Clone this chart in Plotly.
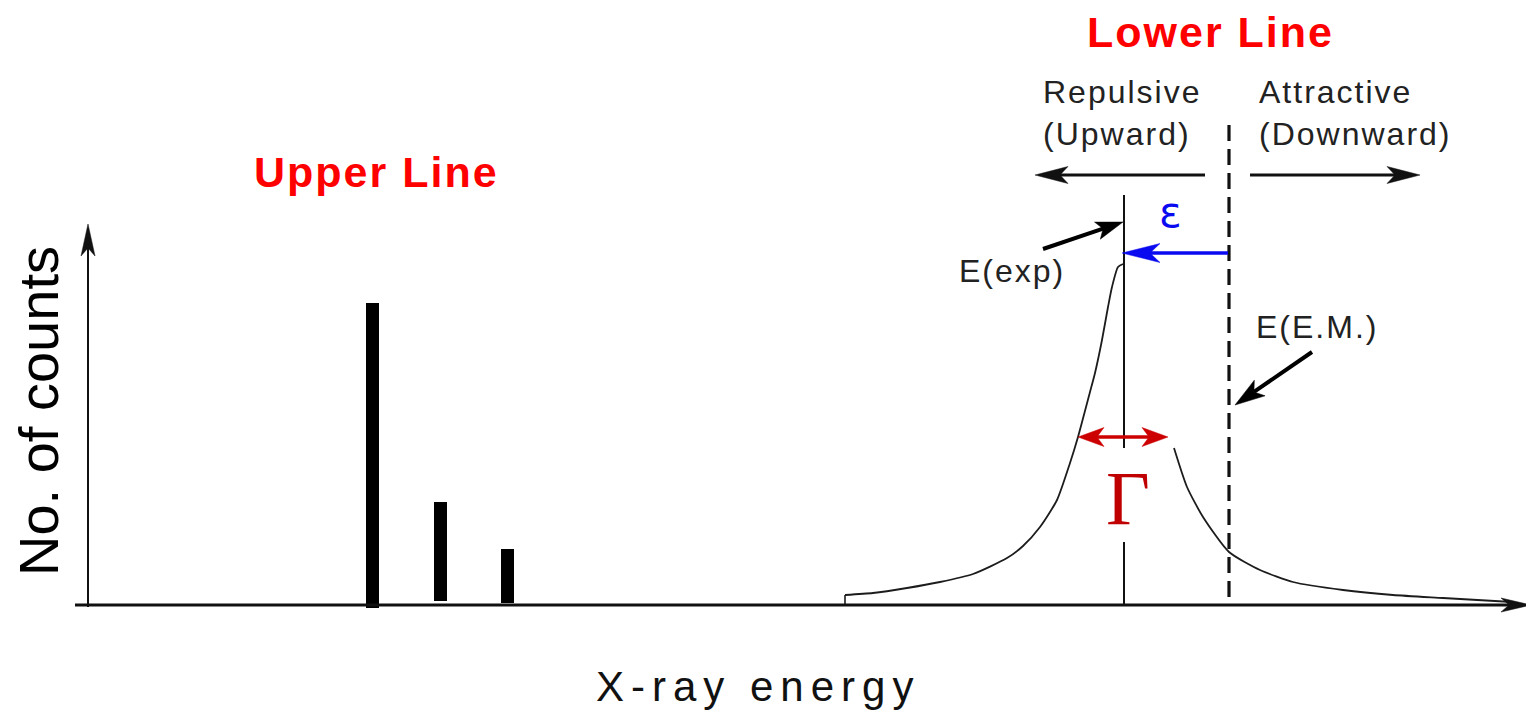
import math
import plotly.graph_objects as go

# Upper line: three components (energy, peak counts, foot of each bar)
upper_energy = [372, 440, 507]
upper_counts = [302, 103, 56]
upper_base = [-3, 4, 2]

# Lower line profile, broken on the high-energy side where the width label sits
lower_left_energy = [845, 873, 907, 940, 973, 1007, 1023, 1040, 1057, 1070,
                     1078, 1090, 1095, 1102, 1108, 1112, 1118, 1123]
lower_left_counts = [10, 12, 17, 23, 31, 47, 59, 78, 105, 142,
                     168, 213, 232, 265, 298, 318, 338, 341]
lower_right_energy = [1174, 1187, 1203, 1229, 1260, 1293, 1343, 1393, 1443, 1512]
lower_right_counts = [157, 118, 88, 53, 35, 23, 15, 10, 7, 3]

# Measured and electromagnetic-only energies of the lower line
E_exp = 1124
E_em = 1229

W, H = 1526, 723
BASE_PX = 605           # pixel row of zero counts
FONT = "Liberation Sans"
INK = "#111111"


def cy(py):
    """Pixel row -> counts coordinate."""
    return BASE_PX - py


def arrow(x0, y0, x1, y1, color, width, head_len, head_w, notch, both=False):
    """Shaft plus stealth-style filled head(s) as layout shapes."""
    d = math.hypot(x1 - x0, y1 - y0)
    ux, uy = (x1 - x0) / d, (y1 - y0) / d
    nx, ny = -uy, ux

    def head(tx, ty, sx, sy):
        bx, by = tx - head_len * sx, ty - head_len * sy
        mx, my = tx - (head_len - notch) * sx, ty - (head_len - notch) * sy
        path = (f"M{tx},{ty} L{bx + head_w * nx},{by + head_w * ny} "
                f"L{mx},{my} L{bx - head_w * nx},{by - head_w * ny} Z")
        shp = dict(type="path", path=path, xref="x", yref="y",
                   fillcolor=color, line=dict(color=color, width=0.5),
                   layer="above")
        return shp, (mx, my)

    out = []
    h1, end = head(x1, y1, ux, uy)
    out.append(h1)
    start = (x0, y0)
    if both:
        h0, start = head(x0, y0, -ux, -uy)
        out.append(h0)
    out.append(dict(type="line", xref="x", yref="y", x0=start[0], y0=start[1],
                    x1=end[0], y1=end[1], line=dict(color=color, width=width),
                    layer="above"))
    return out


fig = go.Figure()

# Upper line bars
fig.add_trace(go.Bar(
    x=upper_energy,
    y=[c - b for c, b in zip(upper_counts, upper_base)],
    base=upper_base, width=13,
    marker=dict(color="#000000", line=dict(width=0)),
    showlegend=False, hoverinfo="skip"))

# Lower line profile
for xs, ys in ((lower_left_energy, lower_left_counts),
               (lower_right_energy, lower_right_counts)):
    fig.add_trace(go.Scatter(x=xs, y=ys, mode="lines",
                             line=dict(color="#1c1c1c", width=1.8,
                                       shape="spline", smoothing=0.6),
                             showlegend=False, hoverinfo="skip"))

# small foot where the profile starts
fig.add_trace(go.Scatter(x=[lower_left_energy[0]] * 2,
                         y=[0, lower_left_counts[0]], mode="lines",
                         line=dict(color="#1c1c1c", width=1.6),
                         showlegend=False, hoverinfo="skip"))

# Measured energy marker (interrupted around the width label)
for y0, y1 in ((cy(195), cy(448)), (cy(542), 0)):
    fig.add_trace(go.Scatter(x=[E_exp, E_exp], y=[y0, y1], mode="lines",
                             line=dict(color=INK, width=2),
                             showlegend=False, hoverinfo="skip"))

# Electromagnetic energy marker
fig.add_trace(go.Scatter(x=[E_em, E_em], y=[cy(125), 0], mode="lines",
                         line=dict(color=INK, width=3.2, dash="16px,8px"),
                         showlegend=False, hoverinfo="skip"))

shapes = []
# axes
shapes += arrow(88, cy(607), 88, cy(224), INK, 2, 32, 7, 8)
shapes += arrow(75, 0, 1531, 0, INK, 2.8, 30, 7, 8)
# shift direction arrows
shapes += arrow(1205, cy(175), 1035, cy(175), INK, 2.8, 33, 8.5, 8)
shapes += arrow(1250, cy(175), 1420, cy(175), INK, 2.8, 33, 8.5, 8)
# E(exp) pointer
shapes += arrow(1043, cy(249), E_exp - 1, cy(222), "#000000", 4, 27, 9, 6)
# shift epsilon
shapes += arrow(E_em - 1, cy(253), E_exp - 2, cy(253), "#0a0af0", 3.5, 38, 9.5, 10)
# E(E.M.) pointer
shapes += arrow(1312, cy(352), E_em + 6, cy(405), "#000000", 4, 30, 9.5, 7)
# width Gamma
shapes += arrow(1078, cy(437), 1168, cy(437), "#cc0000", 3.5, 26, 9.5, 7, both=True)


def ls(text, px):
    return f'<span style="letter-spacing:{px}px">{text}</span>'


ann = []


def label(x, y, text, size, color=INK, xanchor="center", yanchor="middle",
          family=FONT, angle=0, align="left"):
    ann.append(dict(x=x, y=y, xref="x", yref="y", text=text, showarrow=False,
                    xanchor=xanchor, yanchor=yanchor, textangle=angle, align=align,
                    font=dict(family=family, size=size, color=color)))


label(376, cy(172), "<b>" + ls("Upper Line", 2) + "</b>", 43, color="#ff0000")
label(1210, cy(32), "<b>" + ls("Lower Line", 2) + "</b>", 43, color="#ff0000")
label(1041, cy(113), ls("Repulsive", 2) + "<br>" + ls("(Upward)", 2), 32,
      color="#222222", xanchor="left")
label(1257, cy(113), ls("Attractive", 2) + "<br>" + ls("(Downward)", 2), 32,
      color="#222222", xanchor="left")
label(957, cy(271), ls("E(exp)", 2), 32, color="#222222", xanchor="left")
label(1254, cy(327), ls("E(E.M.)", 2), 32, color="#222222", xanchor="left")
label(1170, cy(212), "ε", 42, color="#0a0af0", family="DejaVu Sans")
label(1128, cy(498), "Γ", 76, color="#c00000", family="Liberation Serif")
label(38, cy(411), "No. of counts", 56, color="#000000", angle=-90)
label(758, cy(686), ls("X-ray energy", 7), 42, color="#111111")

fig.update_layout(
    width=W, height=H,
    margin=dict(l=0, r=0, t=0, b=0),
    paper_bgcolor="white", plot_bgcolor="white",
    xaxis=dict(range=[0, W], visible=False, fixedrange=True),
    yaxis=dict(range=[BASE_PX - H, BASE_PX], visible=False, fixedrange=True),
    shapes=shapes, annotations=ann,
    bargap=0, showlegend=False,
)

fig.write_html("out.html", config={"displayModeBar": False})
